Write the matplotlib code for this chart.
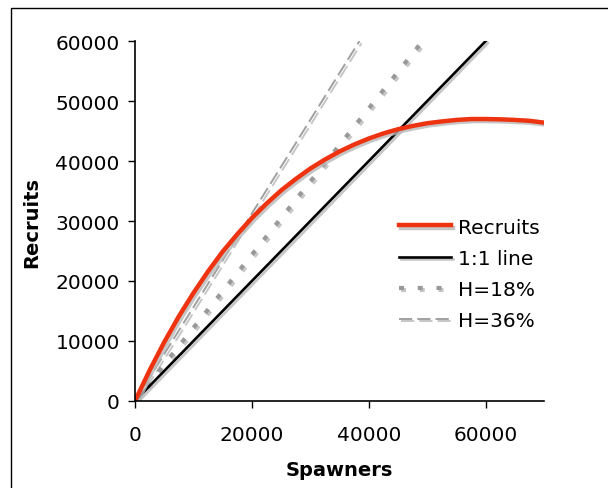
import numpy as np
import matplotlib
matplotlib.use('Agg')
import matplotlib.pyplot as plt
import matplotlib.patheffects as pe
from matplotlib.patches import Rectangle

# values
spawners = [0, 2500, 5000, 7500, 10000, 12500, 15000, 17500, 20000, 22500,
            25000, 27500, 30000, 32500, 35000, 37500, 40000, 42500, 45000,
            47500, 50000, 52500, 55000, 57500, 60000, 62500, 65000, 67500, 70000]
recruits = [0, 5100, 9800, 14100, 18000, 21600, 24900, 27800, 30500, 32900,
            35100, 37000, 38750, 40250, 41600, 42750, 43750, 44600, 45300,
            45850, 46300, 46600, 46850, 47000, 47000, 46950, 46850, 46700, 46400]

line11_s = [0, 60000]
line11_r = [0, 60000]
h18_s = [0, 49200]
h18_r = [0, 60000]
h36_s = [0, 38400]
h36_r = [0, 60000]

plt.rcParams['font.family'] = 'DejaVu Sans'

fig = plt.figure(figsize=(6.08, 4.89), dpi=100)
ax = fig.add_axes([0.222, 0.178, 0.673, 0.736])

# chart area border
fig.patches.append(Rectangle((11/608, -0.1), 1.2, 1 - 9/489 + 0.1,
                             transform=fig.transFigure, fill=False,
                             edgecolor='black', linewidth=1.0))

shadow = [pe.SimpleLineShadow(offset=(1.5, -1.5), shadow_color='#b8b8b8', alpha=0.8), pe.Normal()]

ax.plot(h36_s, h36_r, color='#a0a0a0', lw=1.4, dashes=(6.8, 2.6), label='H=36%', path_effects=shadow)
ax.plot(h18_s, h18_r, color='#999999', lw=3, dashes=(1.2, 3.3), label='H=18%', path_effects=shadow)
ax.plot(line11_s, line11_r, color='black', lw=1.9, label='1:1 line', path_effects=shadow)
ax.plot(spawners, recruits, color='#ee3311', lw=3.2, label='Recruits', path_effects=shadow)

ax.set_xlim(0, 70000)
ax.set_ylim(0, 60000)
ax.set_xticks([0, 20000, 40000, 60000])
ax.set_yticks(range(0, 60001, 10000))
ax.tick_params(labelsize=14.5, length=5, width=1.0, direction='out', colors='black')
ax.tick_params(axis='x', pad=12)
ax.tick_params(axis='y', pad=6)
ax.spines['top'].set_visible(False)
ax.spines['right'].set_visible(False)
for sp in ['left', 'bottom']:
    ax.spines[sp].set_linewidth(1.2)

ax.set_xlabel('Spawners', fontsize=14, fontweight='bold', labelpad=12)
ax.set_ylabel('Recruits', fontsize=14, fontweight='bold', labelpad=10)

h, l = ax.get_legend_handles_labels()
order = [3, 2, 1, 0]
ax.legend([h[i] for i in order], [l[i] for i in order], frameon=False, fontsize=14.5,
          loc='upper left', bbox_to_anchor=(0.6, 0.56), handlelength=2.6,
          handletextpad=0.35, labelspacing=0.6)

fig.savefig('out.png', dpi=100)
